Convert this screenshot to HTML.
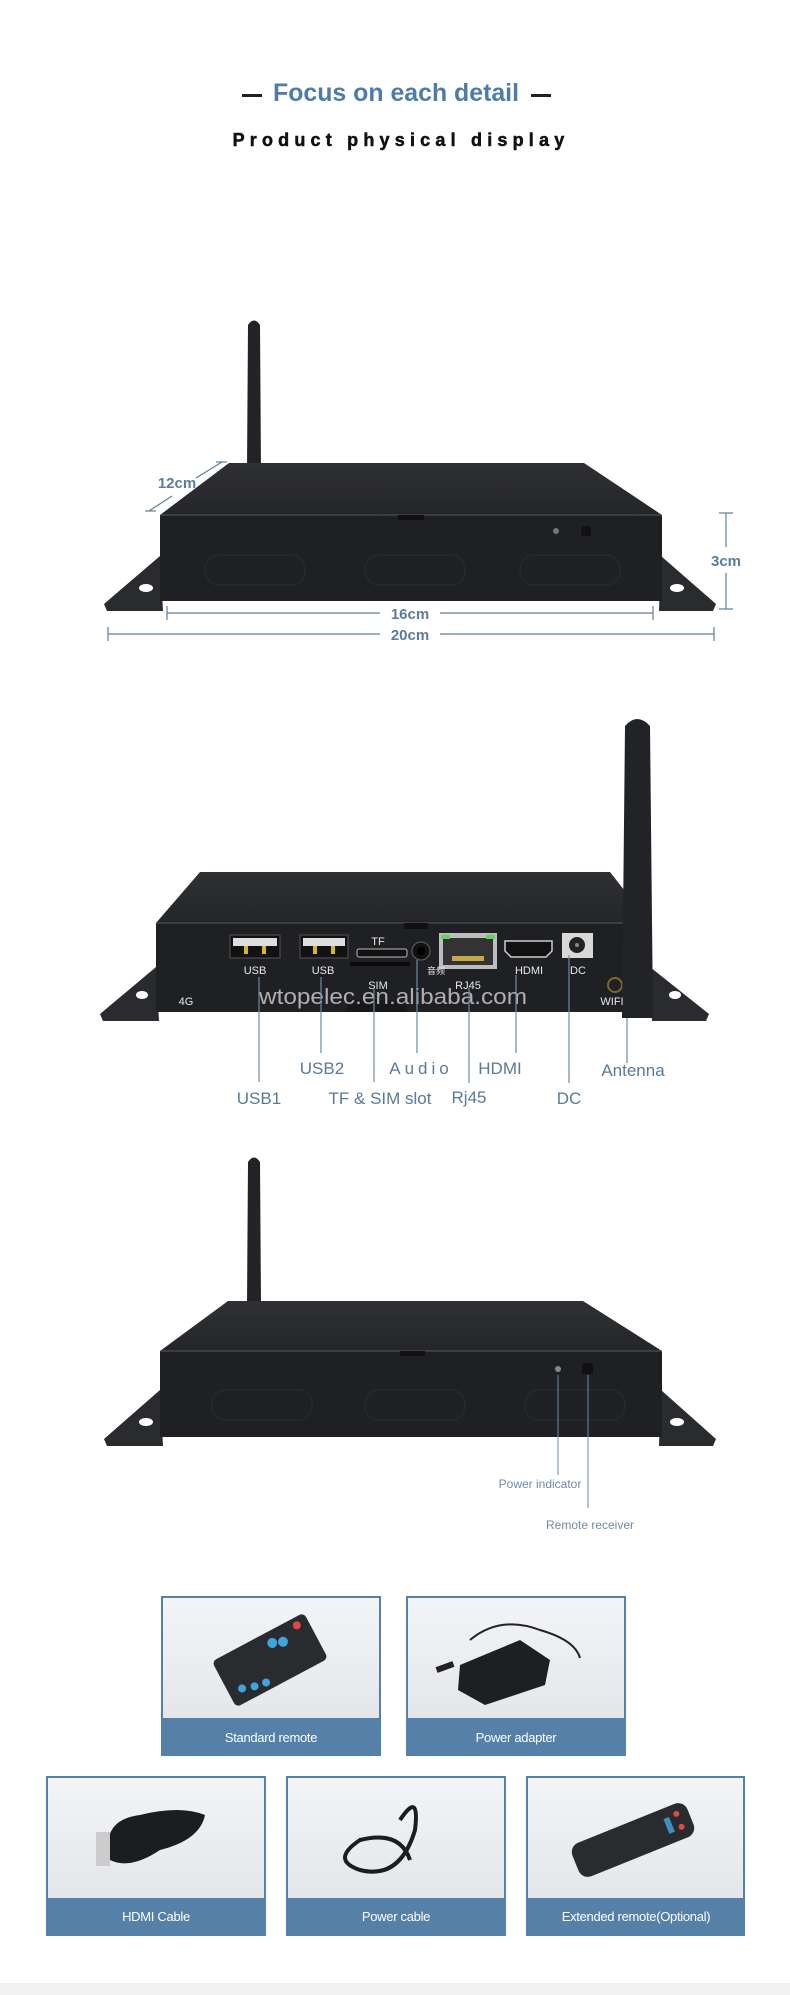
<!DOCTYPE html>
<html><head><meta charset="utf-8"><style>
html,body{margin:0;padding:0;background:#fff;}
svg{display:block;}
text{font-family:"Liberation Sans","Noto Sans CJK SC",sans-serif;}
</style></head><body>
<svg width="790" height="1995" viewBox="0 0 790 1995" xmlns="http://www.w3.org/2000/svg">
<defs>
<linearGradient id="bg" x1="0" y1="0" x2="0" y2="1"><stop offset="0" stop-color="#f3f4f6"/><stop offset="1" stop-color="#e4e6ea"/></linearGradient>
<linearGradient id="top" x1="0" y1="0" x2="0" y2="1"><stop offset="0" stop-color="#2f3034"/><stop offset="1" stop-color="#25262a"/></linearGradient>
</defs>
<rect width="790" height="1995" fill="#fff"/>
<!-- titles -->
<rect x="242" y="94" width="20" height="3" fill="#222"/>
<rect x="531" y="94" width="20" height="3" fill="#222"/>
<text x="396" y="101" text-anchor="middle" font-size="25" font-weight="bold" fill="#4f7ca6" textLength="246" lengthAdjust="spacingAndGlyphs">Focus on each detail</text>
<text x="401" y="146" text-anchor="middle" font-size="18" font-weight="900" fill="#111" letter-spacing="5.2" stroke="#111" stroke-width="0.5">Product physical display</text>

<!-- DEVICE 1 -->
<g>
<path d="M247,470 L248,325 Q254,316 260,325 L261,470 Z" fill="#222326"/>
<polygon points="160,556 104,604 107,611 163,611" fill="#2a2b2e"/>
<polygon points="661,556 716,604 713,611 659,611" fill="#2a2b2e"/>
<ellipse cx="146" cy="588" rx="7" ry="4" fill="#fff"/>
<ellipse cx="677" cy="588" rx="7" ry="4" fill="#fff"/>
<polygon points="160,515 229,463 584,463 662,515" fill="url(#top)"/>
<rect x="160" y="515" width="502" height="86" fill="#1f2023"/>
<line x1="160" y1="515" x2="662" y2="515" stroke="#55575c" stroke-width="1"/>
<rect x="398" y="515" width="26" height="5" fill="#111"/>
<circle cx="556" cy="531" r="3" fill="#777"/>
<rect x="581" y="526" width="10" height="10" rx="2" fill="#111"/>
<rect x="205" y="555" width="100" height="30" rx="14" fill="none" stroke="#26272a" stroke-width="2"/>
<rect x="365" y="555" width="100" height="30" rx="14" fill="none" stroke="#26272a" stroke-width="2"/>
<rect x="520" y="555" width="100" height="30" rx="14" fill="none" stroke="#26272a" stroke-width="2"/>
</g>
<g stroke="#5f7f99" stroke-width="1.2" fill="none">
<line x1="149" y1="511" x2="172" y2="496"/><line x1="196" y1="478" x2="222" y2="462"/>
<line x1="145" y1="511" x2="156" y2="511"/><line x1="216" y1="462" x2="227" y2="462"/>
<line x1="167" y1="613" x2="380" y2="613"/><line x1="440" y1="613" x2="653" y2="613"/>
<line x1="167" y1="606" x2="167" y2="620"/><line x1="653" y1="606" x2="653" y2="620"/>
<line x1="108" y1="634" x2="380" y2="634"/><line x1="440" y1="634" x2="714" y2="634"/>
<line x1="108" y1="627" x2="108" y2="641"/><line x1="714" y1="627" x2="714" y2="641"/>
<line x1="726" y1="513" x2="726" y2="547"/><line x1="726" y1="573" x2="726" y2="609"/>
<line x1="719" y1="513" x2="733" y2="513"/><line x1="719" y1="609" x2="733" y2="609"/>
</g>
<g fill="#5a7d9b" font-size="15" font-weight="bold" text-anchor="middle">
<text x="177" y="488">12cm</text>
<text x="410" y="619">16cm</text>
<text x="410" y="640">20cm</text>
<text x="726" y="566">3cm</text>
</g>

<!-- DEVICE 2 -->
<g>
<polygon points="156,967 100,1014 103,1021 159,1021" fill="#2a2b2e"/>
<polygon points="650,967 709,1014 706,1021 652,1021" fill="#2a2b2e"/>
<ellipse cx="142" cy="995" rx="6" ry="4" fill="#fff"/>
<ellipse cx="675" cy="995" rx="6" ry="4" fill="#fff"/>
<polygon points="156,923 200,872 610,872 650,923" fill="url(#top)"/>
<rect x="156" y="923" width="494" height="89" fill="#1f2023"/>
<line x1="156" y1="923" x2="650" y2="923" stroke="#55575c"/>
<rect x="404" y="923" width="24" height="6" fill="#111"/>
<!-- ports -->
<rect x="230" y="935" width="50" height="23" fill="#111" stroke="#555" stroke-width="1"/>
<rect x="233" y="938" width="44" height="8" fill="#ddd"/>
<rect x="244" y="946" width="4" height="8" fill="#d8b42a"/><rect x="262" y="946" width="4" height="8" fill="#d8b42a"/>
<rect x="300" y="935" width="48" height="23" fill="#111" stroke="#555"/>
<rect x="303" y="938" width="42" height="8" fill="#ddd"/>
<rect x="313" y="946" width="4" height="8" fill="#d8b42a"/><rect x="331" y="946" width="4" height="8" fill="#d8b42a"/>
<rect x="357" y="949" width="50" height="8" rx="2" fill="#111" stroke="#bbb"/>
<rect x="350" y="962" width="60" height="4" fill="#0a0a0a"/>
<rect x="347" y="1000" width="60" height="12" fill="#17181a"/>
<circle cx="421" cy="951" r="9" fill="#111" stroke="#666"/><circle cx="421" cy="951" r="4" fill="#000"/>
<rect x="439" y="933" width="58" height="36" fill="#bdbdbd"/>
<rect x="443" y="938" width="50" height="27" fill="#333"/>
<rect x="441" y="935" width="9" height="4" fill="#5fd35f"/><rect x="486" y="935" width="9" height="4" fill="#5fd35f"/>
<rect x="452" y="956" width="32" height="5" fill="#c9a84a"/>
<path d="M505,941 L552,941 L552,951 L546,957 L511,957 L505,951 Z" fill="#111" stroke="#ccc" stroke-width="1.5"/>
<rect x="562" y="933" width="31" height="25" fill="#d8d8d8"/>
<circle cx="577" cy="945" r="8" fill="#222"/><circle cx="577" cy="945" r="2" fill="#888"/>
<circle cx="615" cy="985" r="7" fill="none" stroke="#7a6a2a" stroke-width="2"/>
<path d="M622,1018 L625,726 Q637,712 650,726 L653,1018 Z" fill="#222326"/>
</g>
<g fill="#e8e8e8" font-size="11" text-anchor="middle">
<text x="255" y="974">USB</text><text x="323" y="974">USB</text>
<text x="378" y="945">TF</text><text x="378" y="989">SIM</text>
<text x="436" y="974" font-size="9">音频</text>
<text x="468" y="989">RJ45</text><text x="529" y="974">HDMI</text><text x="578" y="974">DC</text>
<text x="186" y="1005">4G</text><text x="612" y="1005">WIFI</text>
</g>
<text x="259" y="1004" font-size="22" fill="#c9c9c9" fill-opacity="0.85" textLength="268" lengthAdjust="spacingAndGlyphs">wtopelec.en.alibaba.com</text>
<g stroke="#6d8aa3" stroke-width="1.2">
<line x1="259" y1="977" x2="259" y2="1082"/>
<line x1="321" y1="977" x2="321" y2="1053"/>
<line x1="374" y1="988" x2="374" y2="1082"/>
<line x1="417" y1="960" x2="417" y2="1053"/>
<line x1="469" y1="988" x2="469" y2="1083"/>
<line x1="516" y1="975" x2="516" y2="1053"/>
<line x1="569" y1="955" x2="569" y2="1083"/>
<line x1="627" y1="1018" x2="627" y2="1063"/>
</g>
<g fill="#5b7a96" font-size="17" text-anchor="middle">
<text x="322" y="1074">USB2</text>
<text x="421" y="1074" letter-spacing="4">Audio</text>
<text x="500" y="1074">HDMI</text>
<text x="633" y="1076">Antenna</text>
<text x="259" y="1104">USB1</text>
<text x="380" y="1104">TF &amp; SIM slot</text>
<text x="469" y="1103">Rj45</text>
<text x="569" y="1104">DC</text>
</g>

<!-- DEVICE 3 -->
<g>
<path d="M247,1305 L248,1162 Q254,1153 260,1162 L261,1305 Z" fill="#222326"/>
<polygon points="160,1390 104,1439 107,1446 163,1446" fill="#2a2b2e"/>
<polygon points="661,1390 716,1439 713,1446 659,1446" fill="#2a2b2e"/>
<ellipse cx="146" cy="1422" rx="7" ry="4" fill="#fff"/>
<ellipse cx="677" cy="1422" rx="7" ry="4" fill="#fff"/>
<polygon points="160,1351 228,1301 583,1301 662,1351" fill="url(#top)"/>
<rect x="160" y="1351" width="502" height="86" fill="#1f2023"/>
<line x1="160" y1="1351" x2="662" y2="1351" stroke="#55575c"/>
<rect x="400" y="1351" width="25" height="5" fill="#111"/>
<circle cx="558" cy="1369" r="3" fill="#888"/>
<rect x="582" y="1363" width="11" height="11" rx="2" fill="#111"/>
<rect x="212" y="1390" width="100" height="30" rx="14" fill="none" stroke="#26272a" stroke-width="2"/>
<rect x="365" y="1390" width="100" height="30" rx="14" fill="none" stroke="#26272a" stroke-width="2"/>
<rect x="525" y="1390" width="100" height="30" rx="14" fill="none" stroke="#26272a" stroke-width="2"/>
</g>
<g stroke="#6d8aa3" stroke-width="1">
<line x1="558" y1="1375" x2="558" y2="1475"/>
<line x1="588" y1="1375" x2="588" y2="1508"/>
</g>
<g fill="#6f8ba3" font-size="12" text-anchor="middle">
<text x="540" y="1488">Power indicator</text>
<text x="590" y="1529">Remote receiver</text>
</g>

<!-- CARDS -->
<g>
<rect x="161" y="1596" width="220" height="160" fill="#5580a8"/>
<rect x="163" y="1598" width="216" height="120" fill="url(#bg)"/>
<text x="271" y="1742" text-anchor="middle" font-size="13" fill="#fff" letter-spacing="-0.3">Standard remote</text>
<g transform="translate(270,1660) rotate(-28)"><rect x="-52" y="-26" width="104" height="52" rx="5" fill="#2a2b2e"/>
<circle cx="-38" cy="12" r="4" fill="#3ea4dc"/><circle cx="-26" cy="16" r="4" fill="#3ea4dc"/><circle cx="-14" cy="18" r="4" fill="#3ea4dc"/>
<circle cx="10" cy="-14" r="5" fill="#3ea4dc"/><circle cx="20" cy="-10" r="5" fill="#3ea4dc"/><circle cx="40" cy="-18" r="4" fill="#e04848"/></g>

<rect x="406" y="1596" width="220" height="160" fill="#5580a8"/>
<rect x="408" y="1598" width="216" height="120" fill="url(#bg)"/>
<text x="516" y="1742" text-anchor="middle" font-size="13" fill="#fff" letter-spacing="-0.3">Power adapter</text>
<path d="M470,1640 Q500,1615 540,1630 Q575,1640 580,1658" stroke="#222" stroke-width="2" fill="none"/>
<polygon points="460,1665 520,1640 550,1660 545,1685 485,1705 458,1690" fill="#1e1f21"/>
<rect x="436" y="1664" width="18" height="6" fill="#222" transform="rotate(-20 445 1667)"/>

<rect x="46" y="1776" width="220" height="160" fill="#5580a8"/>
<rect x="48" y="1778" width="216" height="120" fill="url(#bg)"/>
<text x="156" y="1921" text-anchor="middle" font-size="13" fill="#fff" letter-spacing="-0.3">HDMI Cable</text>
<path d="M110,1860 Q100,1820 140,1815 Q180,1805 205,1815 Q200,1840 160,1850 Q130,1870 110,1860Z" fill="#1c1d1f"/>
<rect x="96" y="1832" width="14" height="34" fill="#ccc"/>

<rect x="286" y="1776" width="220" height="160" fill="#5580a8"/>
<rect x="288" y="1778" width="216" height="120" fill="url(#bg)"/>
<text x="396" y="1921" text-anchor="middle" font-size="13" fill="#fff" letter-spacing="-0.3">Power cable</text>
<path d="M400,1820 Q420,1790 415,1830 Q400,1880 360,1870 Q330,1860 360,1840 Q400,1830 410,1860" stroke="#1c1d1f" stroke-width="4" fill="none"/>

<rect x="526" y="1776" width="219" height="160" fill="#5580a8"/>
<rect x="528" y="1778" width="215" height="120" fill="url(#bg)"/>
<text x="636" y="1921" text-anchor="middle" font-size="13" fill="#fff" letter-spacing="-0.3">Extended remote(Optional)</text>
<g transform="translate(633,1840) rotate(-22)"><rect x="-62" y="-18" width="124" height="36" rx="10" fill="#2a2b2e"/>
<circle cx="50" cy="-8" r="3" fill="#e04848"/><circle cx="50" cy="6" r="3" fill="#e04848"/><rect x="36" y="-8" width="6" height="16" fill="#3e8fc0"/></g>
</g>
<rect x="0" y="1983" width="790" height="12" fill="#f2f2f2"/>
</svg>
</body></html>
